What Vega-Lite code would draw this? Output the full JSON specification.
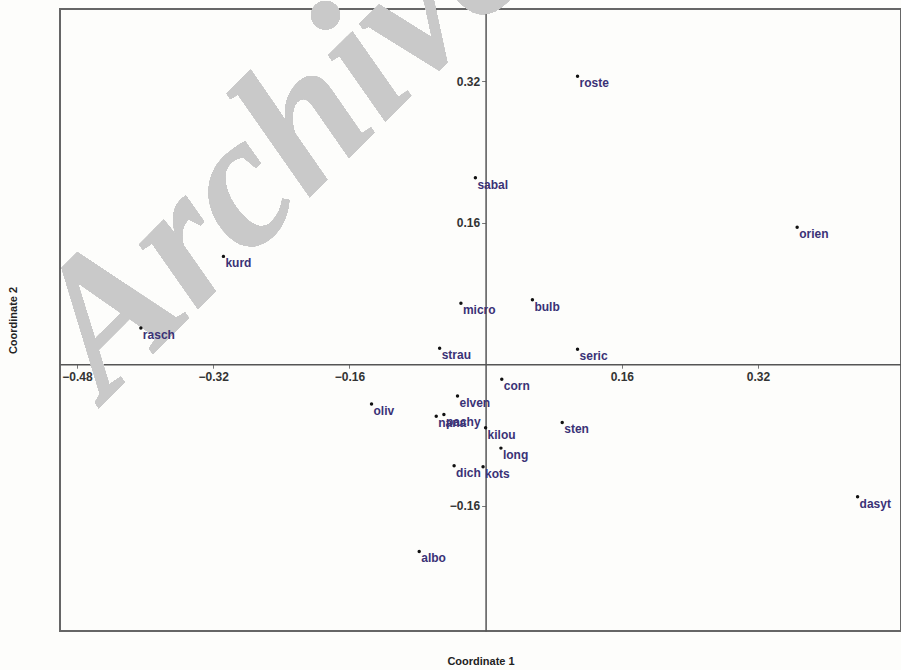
{
  "$schema": "https://vega.github.io/schema/vega-lite/v6.json",
  "width": 841,
  "height": 622,
  "autosize": {"type": "none"},
  "padding": {"left": 60, "top": 9, "right": 0, "bottom": 39},
  "background": "#fdfdfb",
  "config": {
    "view": {"stroke": "#666666", "strokeWidth": 2},
    "axis": {"grid": false}
  },
  "data": {
    "values": [
      {"taxon": "roste", "c1": 0.108, "c2": 0.326},
      {"taxon": "orien", "c1": 0.366, "c2": 0.155},
      {"taxon": "sabal", "c1": -0.012, "c2": 0.211},
      {"taxon": "kurd", "c1": -0.308, "c2": 0.122},
      {"taxon": "rasch", "c1": -0.405, "c2": 0.041},
      {"taxon": "micro", "c1": -0.029, "c2": 0.069},
      {"taxon": "bulb", "c1": 0.055, "c2": 0.073},
      {"taxon": "strau", "c1": -0.054, "c2": 0.018},
      {"taxon": "seric", "c1": 0.108, "c2": 0.017},
      {"taxon": "corn", "c1": 0.019, "c2": -0.017},
      {"taxon": "elven", "c1": -0.033, "c2": -0.036},
      {"taxon": "oliv", "c1": -0.134, "c2": -0.045},
      {"taxon": "nana", "c1": -0.058, "c2": -0.059},
      {"taxon": "pachy", "c1": -0.049, "c2": -0.057},
      {"taxon": "kilou", "c1": 0.0, "c2": -0.072},
      {"taxon": "sten", "c1": 0.090, "c2": -0.066},
      {"taxon": "long", "c1": 0.018, "c2": -0.095},
      {"taxon": "dich", "c1": -0.037, "c2": -0.115},
      {"taxon": "kots", "c1": -0.003, "c2": -0.116},
      {"taxon": "dasyt", "c1": 0.437, "c2": -0.150},
      {"taxon": "albo", "c1": -0.078, "c2": -0.212}
    ]
  },
  "resolve": {"axis": {"x": "independent", "y": "independent"}},
  "layer": [
    {
      "mark": {"type": "text", "text": "Archive", "font": "Liberation Serif, DejaVu Serif, serif", "fontWeight": "bold", "fontStyle": "italic", "fontSize": 190, "angle": -45, "align": "center", "baseline": "alphabetic", "color": "#c9c9c9"},
      "encoding": {
        "x": {"datum": -0.192, "type": "quantitative", "axis": null, "scale": {"domain": [-0.5, 0.488], "nice": false, "zero": false}},
        "y": {"datum": 0.203, "type": "quantitative", "axis": null, "scale": {"domain": [-0.302, 0.402], "nice": false, "zero": false}}
      }
    },
    {
      "mark": {"type": "circle", "size": 12, "color": "#111111", "opacity": 1},
      "encoding": {
        "x": {
          "field": "c1", "type": "quantitative",
          "scale": {"domain": [-0.5, 0.488], "nice": false, "zero": false},
          "axis": {
            "title": null, "orient": "bottom", "offset": -266.8,
            "values": [-0.48, -0.32, -0.16, 0.16, 0.32], "format": ".2f",
            "labelFont": "Liberation Sans", "labelFontWeight": "bold", "labelFontSize": 12, "labelColor": "#333333",
            "labelPadding": 3, "labelFlush": false,
            "tickSize": 4, "tickColor": "#777777", "tickWidth": 1,
            "domainColor": "#555555", "domainWidth": 1.5
          }
        },
        "y": {
          "field": "c2", "type": "quantitative",
          "scale": {"domain": [-0.302, 0.402], "nice": false, "zero": false},
          "axis": {
            "title": null, "orient": "left", "offset": -425.6,
            "values": [-0.16, 0.16, 0.32], "format": ".2f",
            "labelFont": "Liberation Sans", "labelFontWeight": "bold", "labelFontSize": 12, "labelColor": "#333333",
            "labelPadding": 2, "labelFlush": false,
            "tickSize": 4, "tickColor": "#777777", "tickWidth": 1,
            "domainColor": "#555555", "domainWidth": 1.5
          }
        }
      }
    },
    {
      "mark": {"type": "text", "align": "left", "baseline": "middle", "dx": 2, "dy": 7, "font": "Liberation Sans", "fontWeight": "bold", "fontSize": 12, "color": "#3a3276"},
      "encoding": {
        "x": {
          "field": "c1", "type": "quantitative",
          "scale": {"domain": [-0.5, 0.488], "nice": false, "zero": false},
          "axis": {
            "title": "Coordinate 1", "orient": "bottom", "labels": false, "ticks": false, "domain": false,
            "titleFont": "Liberation Sans", "titleFontWeight": "bold", "titleFontSize": 11, "titleColor": "#222222",
            "titlePadding": 24, "minExtent": 0
          }
        },
        "y": {
          "field": "c2", "type": "quantitative",
          "scale": {"domain": [-0.302, 0.402], "nice": false, "zero": false},
          "axis": {
            "title": "Coordinate 2", "orient": "left", "labels": false, "ticks": false, "domain": false,
            "titleFont": "Liberation Sans", "titleFontWeight": "bold", "titleFontSize": 11, "titleColor": "#222222",
            "titlePadding": 42, "minExtent": 0
          }
        },
        "text": {"field": "taxon"}
      }
    }
  ]
}
